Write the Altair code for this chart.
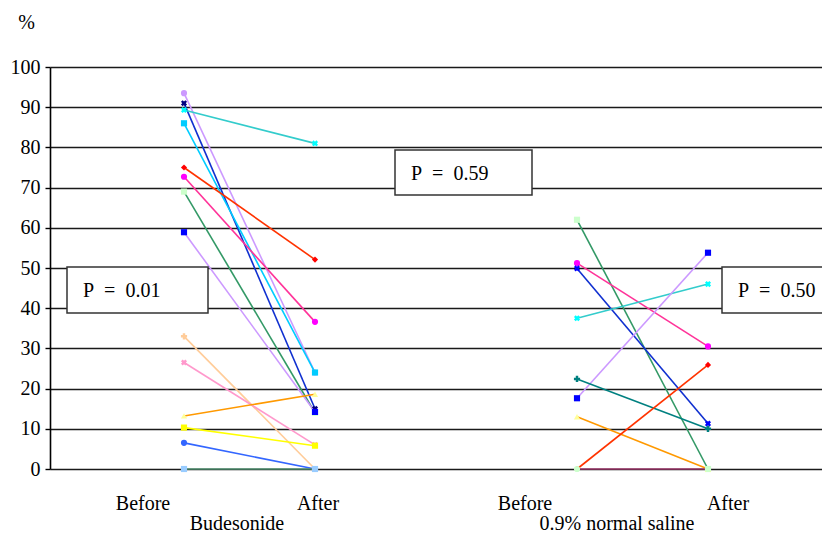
import altair as alt
import pandas as pd

# ---- data ----
groups = ["Budesonide", "0.9% normal saline"]
time_labels = ["Before", "After", "Before", "After"]
p_values = ["P\u00a0\u00a0=\u00a0\u00a00.01", "P\u00a0\u00a0=\u00a0\u00a00.59",
            "P\u00a0\u00a0=\u00a0\u00a00.50"]

bud_before = [93.5, 91.0, 89.3, 86.0, 75.0, 72.7, 69.0, 58.9, 33.0, 26.5, 13.2, 10.3, 6.5, 0.0]
bud_after = [24.0, 15.0, 81.0, 24.0, 52.1, 36.6, 14.0, 14.2, 0.0, 6.0, 18.6, 5.8, 0.0, 0.0]
bud_line = ["#CC99FF", "#1030D0", "#33CCCC", "#00CCFF", "#FF3300", "#FF3399", "#339966",
            "#CC99FF", "#FFCC99", "#FF99CC", "#FF9900", "#FFFF00", "#3366FF", "#4C8C6C"]
bud_marker = ["#CC99FF", "#000080", "#00FFFF", "#00CCFF", "#FF0000", "#FF00FF", "#CCFFCC",
              "#0000FF", "#FFCC99", "#FF99CC", "#FFFF99", "#FFFF00", "#3366FF", "#99CCFF"]
bud_shape = ["circle", "cross", "cross", "square", "diamond", "circle", "square",
             "square", "cross", "cross", "triangle-up", "square", "circle", "square"]
bud_angle = [0, 45, 45, 0, 0, 0, 0, 0, 0, 45, 0, 0, 0, 0]

sal_before = [62.0, 51.2, 49.9, 37.5, 17.6, 22.4, 13.0, 0.0, 0.0]
sal_after = [0.0, 30.5, 11.3, 46.0, 53.8, 10.0, 0.0, 25.9, 0.0]
sal_line = ["#339966", "#FF3399", "#1030D0", "#33CCCC", "#CC99FF", "#008080", "#FF9900",
            "#FF3300", "#993366"]
sal_marker = ["#CCFFCC", "#FF00FF", "#0000FF", "#00FFFF", "#0000FF", "#008080", "#FFFF99",
              "#FF0000", "#CCFFCC"]
sal_shape = ["square", "circle", "cross", "cross", "square", "cross", "triangle-up",
             "diamond", "circle"]
sal_angle = [0, 0, 45, 45, 0, 0, 0, 0, 0]

# category positions: Before/After for each group
pos = {"bud": (1, 2), "sal": (4, 5)}

rows = []
def add(prefix, before, after, lc, mc, sh, ang):
    for i in range(len(before)):
        for xi, v in zip(pos[prefix], (before[i], after[i])):
            rows.append(dict(id=f"{prefix}{i}", x=xi, v=v, lc=lc[i], mc=mc[i],
                             shape=sh[i], ang=ang[i]))

add("bud", bud_before, bud_after, bud_line, bud_marker, bud_shape, bud_angle)
add("sal", sal_before, sal_after, sal_line, sal_marker, sal_shape, sal_angle)
df = pd.DataFrame(rows)
one = pd.DataFrame({"k": [0]})

FONT = "Liberation Serif"
FS = 20
W, H = 772, 402
PX = 131.0
d0 = 1 - 134 / PX
d1 = d0 + W / PX

xs = alt.Scale(domain=[d0, d1], nice=False, zero=False)
ys = alt.Scale(domain=[0, 100], nice=False)

base = alt.Chart(df)

lines = base.mark_line(strokeWidth=1.6).encode(
    x=alt.X("x:Q", scale=xs, axis=None),
    y=alt.Y("v:Q", scale=ys, axis=alt.Axis(
        values=list(range(0, 101, 10)), grid=True, gridColor="#1a1a1a", gridWidth=1.6,
        domainColor="#000", domainWidth=1.6, tickColor="#000", tickSize=5, tickWidth=1.4,
        labelFont=FONT, labelFontSize=FS, labelColor="#000", labelPadding=5,
        title="%", titleAngle=0, titleFont=FONT, titleFontSize=FS, titleFontWeight="normal",
        titleX=-24, titleY=-45, titleAlign="center", titleBaseline="middle")),
    color=alt.Color("lc:N", scale=None),
    detail="id:N",
    order="x:Q",
)

points = base.mark_point(filled=True, size=38, opacity=1).encode(
    x=alt.X("x:Q", scale=xs),
    y=alt.Y("v:Q", scale=ys),
    color=alt.Color("mc:N", scale=None),
    shape=alt.Shape("shape:N", scale=None),
    angle=alt.Angle("ang:Q", scale=None),
)

layers = [lines, points]

# P-value boxes (annotation, pixel coordinates of the text boxes)
boxes = [(17, 158, 200, 246, p_values[0]), (345, 482, 83, 128, p_values[1]),
         (672, 800, 200, 246, p_values[2])]
for x1, x2, y1, y2, txt in boxes:
    layers.append(alt.Chart(one).mark_rect(fill="white", stroke="#333", strokeWidth=1.5).encode(
        x=alt.value(x1), x2=alt.value(x2), y=alt.value(y1), y2=alt.value(y2)))
    layers.append(alt.Chart(one).mark_text(text=txt, font=FONT, fontSize=FS, align="left",
                                            baseline="middle", color="#000").encode(
        x=alt.value(x1 + 16), y=alt.value((y1 + y2) / 2 + 1)))

# category labels below axis
tick_px = [93, 268, 475, 678]
for t, px in zip(time_labels, tick_px):
    layers.append(alt.Chart(one).mark_text(text=t, font=FONT, fontSize=FS, align="center",
                                            baseline="alphabetic", color="#000").encode(
        x=alt.value(px), y=alt.value(443)))
group_px = [187, 567]
for g, px in zip(groups, group_px):
    layers.append(alt.Chart(one).mark_text(text=g, font=FONT, fontSize=FS, align="center",
                                            baseline="alphabetic", color="#000").encode(
        x=alt.value(px), y=alt.value(463)))

chart = alt.layer(*layers).properties(
    width=W, height=H,
    autosize=alt.AutoSizeParams(type="none"),
    padding={"left": 42, "top": 59, "right": 0, "bottom": 67},
    background="white",
).configure_view(stroke=None)

chart.save("out.html", embed_options={"renderer": "svg", "actions": False})
